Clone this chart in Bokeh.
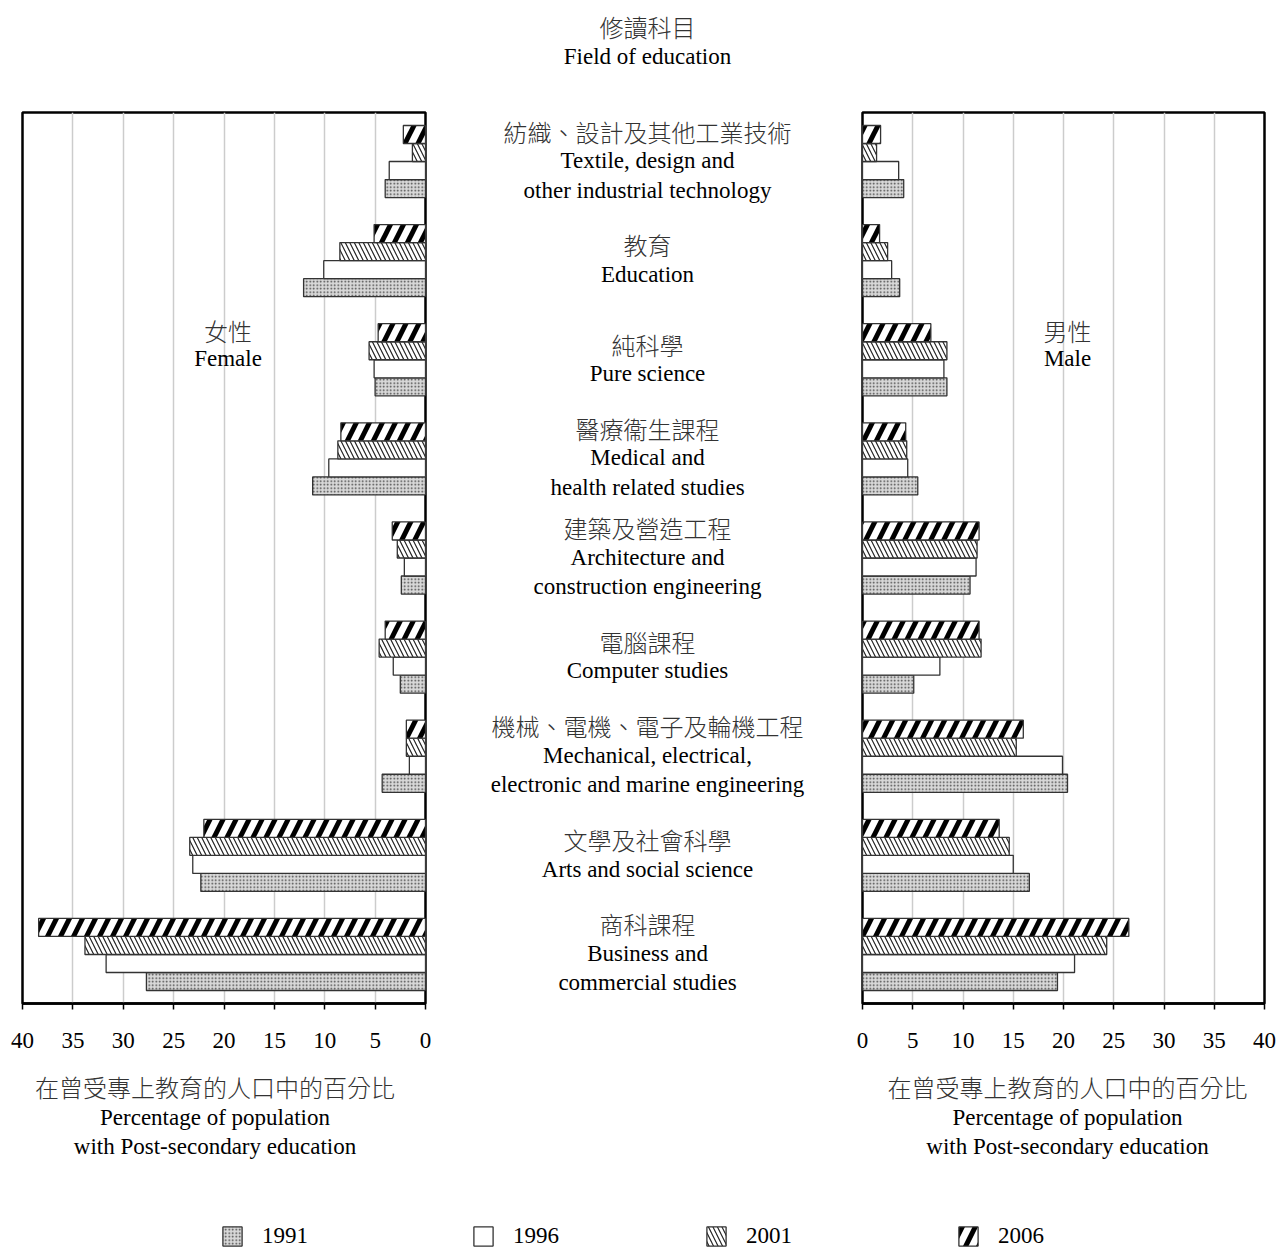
from bokeh.plotting import figure
from bokeh.models import (ColumnDataSource, FactorRange, Range1d, FixedTicker,
                          Label, Legend, LegendItem)
from bokeh.layouts import row, column
from bokeh.embed import file_html
from bokeh.resources import INLINE
from bokeh.core.properties import value

# ---------------- data ----------------
CATEGORIES_ZH = ["紡織、設計及其他工業技術", "教育", "純科學", "醫療衞生課程", "建築及營造工程",
                 "電腦課程", "機械、電機、電子及輪機工程", "文學及社會科學", "商科課程"]
CATEGORIES_EN = ["Textile, design and\nother industrial technology", "Education", "Pure science",
                 "Medical and\nhealth related studies", "Architecture and\nconstruction engineering",
                 "Computer studies", "Mechanical, electrical,\nelectronic and marine engineering",
                 "Arts and social science", "Business and\ncommercial studies"]
YEARS = ["1991", "1996", "2001", "2006"]

FEMALE_1991 = [4.0, 12.1, 5.0, 11.2, 2.4, 2.5, 4.3, 22.3, 27.7]
FEMALE_1996 = [3.6, 10.1, 5.1, 9.6, 2.1, 3.2, 1.6, 23.1, 31.7]
FEMALE_2001 = [1.3, 8.5, 5.6, 8.7, 2.8, 4.6, 1.9, 23.4, 33.8]
FEMALE_2006 = [2.2, 5.1, 4.7, 8.4, 3.3, 4.0, 1.9, 22.0, 38.4]
MALE_1991 = [4.1, 3.7, 8.4, 5.5, 10.7, 5.1, 20.4, 16.6, 19.4]
MALE_1996 = [3.6, 2.9, 8.1, 4.5, 11.3, 7.7, 19.9, 15.0, 21.1]
MALE_2001 = [1.4, 2.5, 8.4, 4.4, 11.4, 11.8, 15.3, 14.6, 24.3]
MALE_2006 = [1.8, 1.7, 6.8, 4.3, 11.6, 11.6, 16.0, 13.6, 26.5]
X_TICKS = [0, 5, 10, 15, 20, 25, 30, 35, 40]

TITLE_ZH = "修讀科目"
TITLE_EN = "Field of education"
AXIS_ZH = "在曾受專上教育的人口中的百分比"
AXIS_EN = ["Percentage of population", "with Post-secondary education"]
FEMALE_LABEL = ("女性", "Female")
MALE_LABEL = ("男性", "Male")

FEMALE = dict(zip(YEARS, [FEMALE_1991, FEMALE_1996, FEMALE_2001, FEMALE_2006]))
MALE = dict(zip(YEARS, [MALE_1991, MALE_1996, MALE_2001, MALE_2006]))

# ---------------- styles ----------------
SERIF = "Liberation Serif"
CJK = "'Noto Sans CJK TC Light', 'Noto Sans CJK TC'"
EN_SIZE = "23px"
ZH_SIZE = "24px"
ZH_COLOR = "#333333"
BAR_LINE = dict(line_color="#333333", line_width=1.3)
STYLE = {
    "1991": dict(fill_color="#d8d8d8", hatch_pattern="dot", hatch_scale=3.5,
                 hatch_weight=1.1, hatch_color="#444444"),
    "1996": dict(fill_color="white"),
    "2001": dict(fill_color="white", hatch_pattern="left_diagonal_line", hatch_scale=9,
                 hatch_weight=1.2, hatch_color="#222222"),
    "2006": dict(fill_color="white", hatch_pattern="right_diagonal_line", hatch_scale=26,
                 hatch_weight=5, hatch_color="black"),
}
GROUP_PAD = 1.5
SIDE_PAD = 0.72
Y_TOP = len(CATEGORIES_ZH) * len(YEARS) + (len(CATEGORIES_ZH) - 1) * GROUP_PAD + SIDE_PAD

TOP_H = 80
ROW_H = 983
BOT_H = 186
TOP_B = 32
BOT_B = 60
PAGE_W = 1276

keys = [e.replace("\n", " ") for e in CATEGORIES_EN]
factors = [(k, y) for k in reversed(keys) for y in YEARS]
y_range = FactorRange(*factors, group_padding=GROUP_PAD, factor_padding=0,
                      range_padding=SIDE_PAD, range_padding_units="absolute")

sources = {}
for yr in YEARS:
    sources[yr] = ColumnDataSource(dict(
        y=[(k, yr) for k in keys], female=FEMALE[yr], male=MALE[yr]))


def blank(p):
    p.outline_line_color = None
    p.xgrid.visible = False
    p.ygrid.visible = False
    return p


def side_panel(width, x_range, bl, br, field):
    p = figure(width=width, height=ROW_H, x_range=x_range, y_range=y_range,
               output_backend="svg", toolbar_location=None, y_axis_location=None,
               min_border_left=bl, min_border_right=br, min_border_top=TOP_B,
               min_border_bottom=BOT_B)
    p.outline_line_color = "black"
    p.outline_line_width = 2.5
    p.ygrid.visible = False
    p.xgrid.grid_line_color = "#cccccc"
    p.xgrid.grid_line_width = 1.5
    ax = p.xaxis[0]
    ax.ticker = FixedTicker(ticks=X_TICKS)
    ax.major_label_text_font = SERIF
    ax.major_label_text_font_size = EN_SIZE
    ax.major_label_text_color = "black"
    ax.major_tick_out = 6
    ax.major_tick_in = 0
    ax.minor_tick_out = 0
    ax.minor_tick_in = 0
    ax.axis_line_width = 2.5
    ax.axis_line_color = "black"
    ax.major_tick_line_width = 1.5
    ax.major_label_standoff = 23
    for yr in YEARS:
        p.hbar(y="y", left=0, right=field, height=1, source=sources[yr],
               **BAR_LINE, **STYLE[yr])
    return p


left = side_panel(440, Range1d(40, 0), 22, 15, "female")
right = side_panel(422, Range1d(0, 40), 8, 12, "male")


def add_sex_text(p, x, labels):
    p.add_layout(Label(x=x, y=Y_TOP, y_offset=-218, text=labels[0], text_font=CJK,
                       text_font_size=ZH_SIZE, text_align="center", text_baseline="middle",
                       text_color=ZH_COLOR))
    p.add_layout(Label(x=x, y=Y_TOP, y_offset=-246, text=labels[1], text_font=SERIF,
                       text_font_size=EN_SIZE, text_align="center", text_baseline="middle",
                       text_color="black"))


add_sex_text(left, 19.6, FEMALE_LABEL)
add_sex_text(right, 20.4, MALE_LABEL)

# ---------------- middle panel ----------------
mid = blank(figure(width=414, height=ROW_H, x_range=Range1d(0, 1), y_range=y_range,
                   output_backend="svg", toolbar_location=None, x_axis_location=None,
                   y_axis_location=None, min_border_left=0, min_border_right=0,
                   min_border_top=TOP_B, min_border_bottom=BOT_B))

zh_rows = dict(y=[], text=[], dy=[])
en_rows = dict(y=[], text=[], dy=[])
PITCH = 29.5
for k, zh, en in zip(keys, CATEGORIES_ZH, CATEGORIES_EN):
    lines = [zh] + en.split("\n")
    n = len(lines)
    for i, t in enumerate(lines):
        dy = (i - (n - 1) / 2) * PITCH - 1
        tgt = zh_rows if i == 0 else en_rows
        tgt["y"].append(k)
        tgt["text"].append(t)
        tgt["dy"].append(dy)

mid.text(x=0.5, y="y", text="text", y_offset="dy", source=ColumnDataSource(zh_rows),
         text_align="center", text_baseline="middle", text_font=value(CJK),
         text_font_size=ZH_SIZE, text_color=ZH_COLOR)
mid.text(x=0.5, y="y", text="text", y_offset="dy", source=ColumnDataSource(en_rows),
         text_align="center", text_baseline="middle", text_font=value(SERIF),
         text_font_size=EN_SIZE, text_color="black")

# ---------------- top title (page-pixel coordinates) ----------------
top = blank(figure(width=PAGE_W, height=TOP_H, x_range=Range1d(0, PAGE_W),
                   y_range=Range1d(TOP_H, 0), output_backend="svg", toolbar_location=None,
                   x_axis_location=None, y_axis_location=None, min_border=0))
top.text(x=[647], y=[26], text=[TITLE_ZH], text_align="center", text_baseline="middle",
         text_font=value(CJK), text_font_size=ZH_SIZE, text_color=ZH_COLOR)
top.text(x=[647], y=[56], text=[TITLE_EN], text_align="center", text_baseline="middle",
         text_font=value(SERIF), text_font_size=EN_SIZE, text_color="black")

# ---------------- bottom: axis titles and legend (page-pixel coordinates) ----------------
Y0 = TOP_H + ROW_H
bottom = blank(figure(width=PAGE_W, height=BOT_H, x_range=Range1d(0, PAGE_W),
                      y_range=Range1d(Y0 + BOT_H, Y0), output_backend="svg",
                      toolbar_location=None, x_axis_location=None, y_axis_location=None,
                      min_border=0))
for cx in (214.5, 1067):
    bottom.text(x=[cx], y=[1086], text=[AXIS_ZH], text_align="center",
                text_baseline="middle", text_font=value(CJK), text_font_size=ZH_SIZE,
                text_color=ZH_COLOR)
    bottom.text(x=[cx, cx], y=[1117, 1146], text=AXIS_EN, text_align="center",
                text_baseline="middle", text_font=value(SERIF), text_font_size=EN_SIZE,
                text_color="black")

LEG_X = [220, 471, 704, 956]
nan = float("nan")
for i, yr in enumerate(YEARS):
    r = bottom.hbar(y=[nan], right=[nan], left=0, height=1, **BAR_LINE, **STYLE[yr])
    leg = Legend(items=[LegendItem(label=yr, renderers=[r])], location=(LEG_X[i], 0),
                 orientation="horizontal", glyph_width=24, glyph_height=24,
                 label_standoff=18, padding=0, margin=0, border_line_color=None,
                 background_fill_alpha=0, label_text_font=SERIF,
                 label_text_font_size=EN_SIZE, label_text_color="black")
    bottom.add_layout(leg, "center")

layout = column(top, row(left, mid, right), bottom)
open("out.html", "w").write(file_html(layout, INLINE))
